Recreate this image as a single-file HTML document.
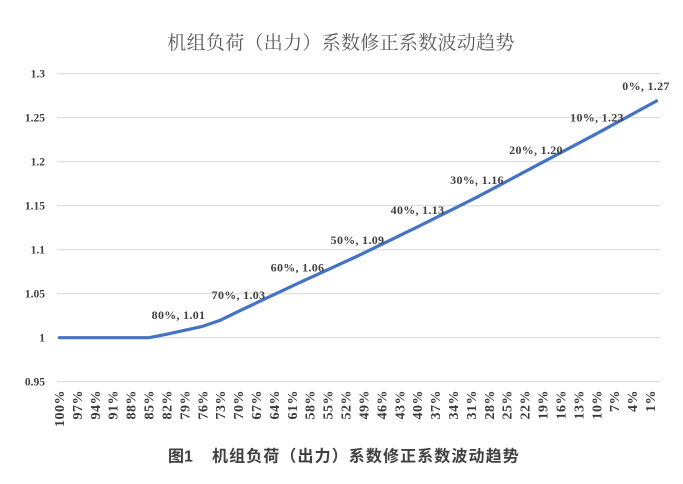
<!DOCTYPE html>
<html>
<head>
<meta charset="utf-8">
<style>
  html, body { margin:0; padding:0; background:#ffffff; }
  body { width:683px; height:484px; overflow:hidden; position:relative; }
  svg { position:absolute; left:0; top:0; }
</style>
</head>
<body>
<svg width="683" height="484" viewBox="0 0 683 484" xmlns="http://www.w3.org/2000/svg">
  <!-- title -->
  <text x="341" y="49" text-anchor="middle" font-family="'Noto Serif CJK SC','Noto Serif CJK JP','Liberation Serif',serif" font-size="19" font-weight="normal" fill="#5a5a5a" letter-spacing="0.3">机组负荷（出力）系数修正系数波动趋势</text>

  <!-- gridlines -->
  <g stroke="#d9d9d9" stroke-width="1.2">
    <line x1="57" y1="73.7" x2="660" y2="73.7"/>
    <line x1="57" y1="117.7" x2="660" y2="117.7"/>
    <line x1="57" y1="161.7" x2="660" y2="161.7"/>
    <line x1="57" y1="205.7" x2="660" y2="205.7"/>
    <line x1="57" y1="249.7" x2="660" y2="249.7"/>
    <line x1="57" y1="293.7" x2="660" y2="293.7"/>
    <line x1="57" y1="337.7" x2="660" y2="337.7"/>
    <line x1="57" y1="381.7" x2="660" y2="381.7"/>
  </g>

  <!-- y labels -->
  <g font-family="'Liberation Serif',serif" font-size="11.5" font-weight="bold" fill="#404040" text-anchor="end">
    <text x="45" y="77.7">1.3</text>
    <text x="45" y="121.7">1.25</text>
    <text x="45" y="165.7">1.2</text>
    <text x="45" y="209.7">1.15</text>
    <text x="45" y="253.7">1.1</text>
    <text x="45" y="297.7">1.05</text>
    <text x="45" y="341.7">1</text>
    <text x="45" y="385.7">0.95</text>
  </g>

  <!-- x labels -->
  <g font-family="'Liberation Serif',serif" font-size="14" font-weight="bold" fill="#3a3a3a" text-anchor="end" letter-spacing="0.5">
    <text transform="translate(64,390) rotate(-90)">100%</text>
    <text transform="translate(81.9,390) rotate(-90)">97%</text>
    <text transform="translate(99.8,390) rotate(-90)">94%</text>
    <text transform="translate(117.7,390) rotate(-90)">91%</text>
    <text transform="translate(135.6,390) rotate(-90)">88%</text>
    <text transform="translate(153.6,390) rotate(-90)">85%</text>
    <text transform="translate(171.5,390) rotate(-90)">82%</text>
    <text transform="translate(189.4,390) rotate(-90)">79%</text>
    <text transform="translate(207.3,390) rotate(-90)">76%</text>
    <text transform="translate(225.2,390) rotate(-90)">73%</text>
    <text transform="translate(243.1,390) rotate(-90)">70%</text>
    <text transform="translate(261.0,390) rotate(-90)">67%</text>
    <text transform="translate(278.9,390) rotate(-90)">64%</text>
    <text transform="translate(296.8,390) rotate(-90)">61%</text>
    <text transform="translate(314.7,390) rotate(-90)">58%</text>
    <text transform="translate(332.6,390) rotate(-90)">55%</text>
    <text transform="translate(350.5,390) rotate(-90)">52%</text>
    <text transform="translate(368.5,390) rotate(-90)">49%</text>
    <text transform="translate(386.4,390) rotate(-90)">46%</text>
    <text transform="translate(404.3,390) rotate(-90)">43%</text>
    <text transform="translate(422.2,390) rotate(-90)">40%</text>
    <text transform="translate(440.1,390) rotate(-90)">37%</text>
    <text transform="translate(458.0,390) rotate(-90)">34%</text>
    <text transform="translate(475.9,390) rotate(-90)">31%</text>
    <text transform="translate(493.8,390) rotate(-90)">28%</text>
    <text transform="translate(511.7,390) rotate(-90)">25%</text>
    <text transform="translate(529.6,390) rotate(-90)">22%</text>
    <text transform="translate(547.5,390) rotate(-90)">19%</text>
    <text transform="translate(565.4,390) rotate(-90)">16%</text>
    <text transform="translate(583.4,390) rotate(-90)">13%</text>
    <text transform="translate(601.3,390) rotate(-90)">10%</text>
    <text transform="translate(619.2,390) rotate(-90)">7%</text>
    <text transform="translate(637.1,390) rotate(-90)">4%</text>
    <text transform="translate(655.0,390) rotate(-90)">1%</text>
  </g>

  <!-- series line -->
  <polyline fill="none" stroke="#4472c4" stroke-width="3.2" stroke-linejoin="round" stroke-linecap="round"
    points="59.5,337.7 149.05,337.7 166.96,334.18 178.9,331.54 202.78,326.26 220.69,320.1 238.6,311.3 298.3,283.14 358.0,255.86 417.7,226.82 477.4,196.9 537.1,165.22 596.8,133.54 656.5,100.98"/>

  <!-- data labels -->
  <g font-family="'Liberation Serif',serif" font-size="12" font-weight="bold" fill="#404040" text-anchor="middle" letter-spacing="0.3">
    <text x="178.5" y="319">80%, 1.01</text>
    <text x="238.5" y="299">70%, 1.03</text>
    <text x="297.5" y="271.5">60%, 1.06</text>
    <text x="357.5" y="244">50%, 1.09</text>
    <text x="417.5" y="214">40%, 1.13</text>
    <text x="477" y="184">30%, 1.16</text>
    <text x="536" y="154">20%, 1.20</text>
    <text x="597" y="121.5">10%, 1.23</text>
    <text x="646" y="90">0%, 1.27</text>
  </g>

  <!-- caption -->
  <g font-family="'Liberation Sans','Noto Sans CJK SC',sans-serif" font-size="16" font-weight="bold" fill="#404040">
    <text x="168" y="461.5">图1</text>
    <text x="212" y="461.5" letter-spacing="1.1">机组负荷（出力）系数修正系数波动趋势</text>
  </g>
</svg>
</body>
</html>
